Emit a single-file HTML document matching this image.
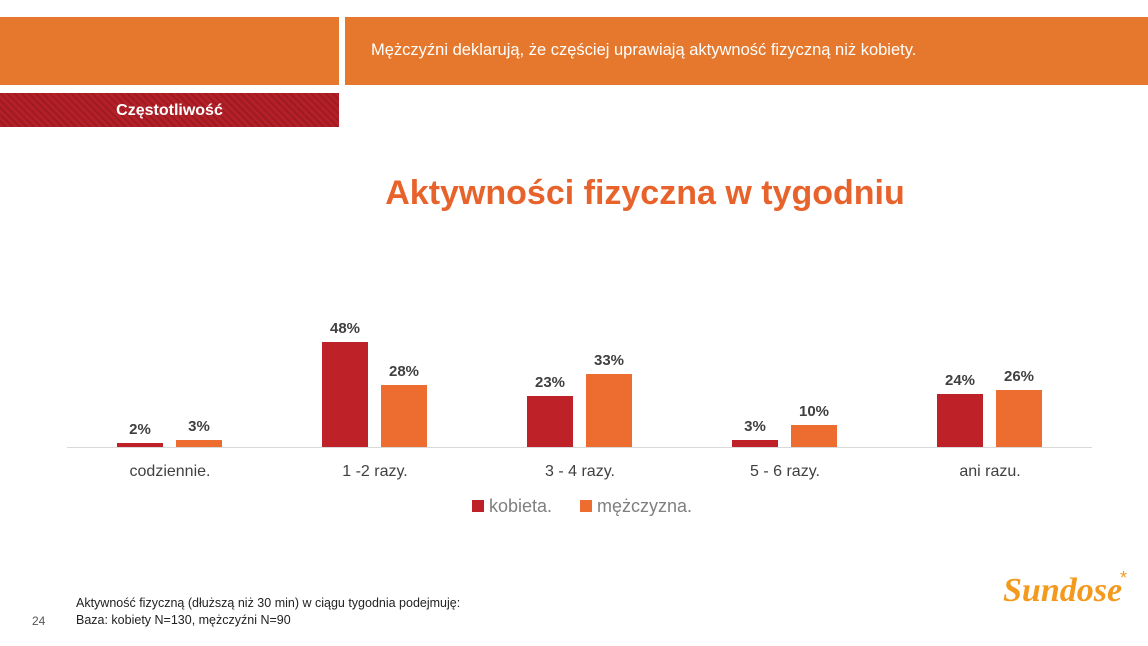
<!DOCTYPE html>
<html><head><meta charset="utf-8"><style>
body{margin:0;width:1148px;height:646px;background:#fff;position:relative;overflow:hidden;font-family:"Liberation Sans",sans-serif}
.a{position:absolute}
.bar{position:absolute;width:46px}
.k{background:#BE2228}.m{background:#ED6C30}
.lbl{position:absolute;width:60px;text-align:center;font-size:15px;font-weight:bold;color:#404040}
.cat{position:absolute;width:160px;text-align:center;font-size:16px;color:#404040;top:463px}
</style></head><body>
<div class="a" style="left:0;top:17px;width:339px;height:68px;background:#E5782C"></div>
<div class="a" style="left:345px;top:17px;width:803px;height:68px;background:#E5782C"></div>
<div class="a" style="left:371px;top:41px;color:#fff;font-size:16.5px">Mężczyźni deklarują, że częściej uprawiają aktywność fizyczną niż kobiety.</div>
<div class="a" style="left:0;top:93px;width:339px;height:34px;background:repeating-linear-gradient(45deg,#B51F27 0 3px,#9E1B22 3px 5px)"></div>
<div class="a" style="left:0;top:102px;width:339px;text-align:center;color:#fff;font-weight:bold;font-size:16px">Częstotliwość</div>
<div class="a" style="left:0;width:1290px;top:174px;text-align:center;color:#E8632B;font-weight:bold;font-size:34px">Aktywności fizyczna w tygodniu</div>
<div class="a" style="left:67px;top:447px;width:1025px;height:1px;background:#d9d9d9"></div>

<div class="bar k" style="left:117px;top:443px;height:4px"></div>
<div class="bar m" style="left:176px;top:440px;height:7px"></div>
<div class="lbl" style="left:110px;top:421px">2%</div>
<div class="lbl" style="left:169px;top:418px">3%</div>

<div class="bar k" style="left:322px;top:342px;height:105px"></div>
<div class="bar m" style="left:381px;top:385px;height:62px"></div>
<div class="lbl" style="left:315px;top:320px">48%</div>
<div class="lbl" style="left:374px;top:363px">28%</div>

<div class="bar k" style="left:527px;top:396px;height:51px"></div>
<div class="bar m" style="left:586px;top:374px;height:73px"></div>
<div class="lbl" style="left:520px;top:374px">23%</div>
<div class="lbl" style="left:579px;top:352px">33%</div>

<div class="bar k" style="left:732px;top:440px;height:7px"></div>
<div class="bar m" style="left:791px;top:425px;height:22px"></div>
<div class="lbl" style="left:725px;top:418px">3%</div>
<div class="lbl" style="left:784px;top:403px">10%</div>

<div class="bar k" style="left:937px;top:394px;height:53px"></div>
<div class="bar m" style="left:996px;top:390px;height:57px"></div>
<div class="lbl" style="left:930px;top:372px">24%</div>
<div class="lbl" style="left:989px;top:368px">26%</div>

<div class="cat" style="left:90px">codziennie.</div>
<div class="cat" style="left:295px">1 -2 razy.</div>
<div class="cat" style="left:500px">3 - 4 razy.</div>
<div class="cat" style="left:705px">5 - 6 razy.</div>
<div class="cat" style="left:910px">ani razu.</div>

<div class="a" style="left:472px;top:500px;width:12px;height:12px;background:#BE2228"></div>
<div class="a" style="left:489px;top:496px;font-size:18px;color:#7f7f7f">kobieta.</div>
<div class="a" style="left:580px;top:500px;width:12px;height:12px;background:#ED6C30"></div>
<div class="a" style="left:597px;top:496px;font-size:18px;color:#7f7f7f">mężczyzna.</div>

<div class="a" style="left:76px;top:596px;font-size:12.5px;color:#222">Aktywność fizyczną (dłuższą niż 30 min) w ciągu tygodnia podejmuję:</div>
<div class="a" style="left:76px;top:613px;font-size:12.5px;color:#222">Baza: kobiety N=130, mężczyźni N=90</div>
<div class="a" style="left:32px;top:614px;font-size:12px;color:#555">24</div>
<div class="a" style="left:1003px;top:572px;font-size:34px;font-style:italic;font-weight:bold;color:#F39A1E;font-family:'Liberation Serif',serif">Sundose</div>
<div class="a" style="left:1120px;top:568px;font-size:18px;color:#F39A1E">*</div>
</body></html>
